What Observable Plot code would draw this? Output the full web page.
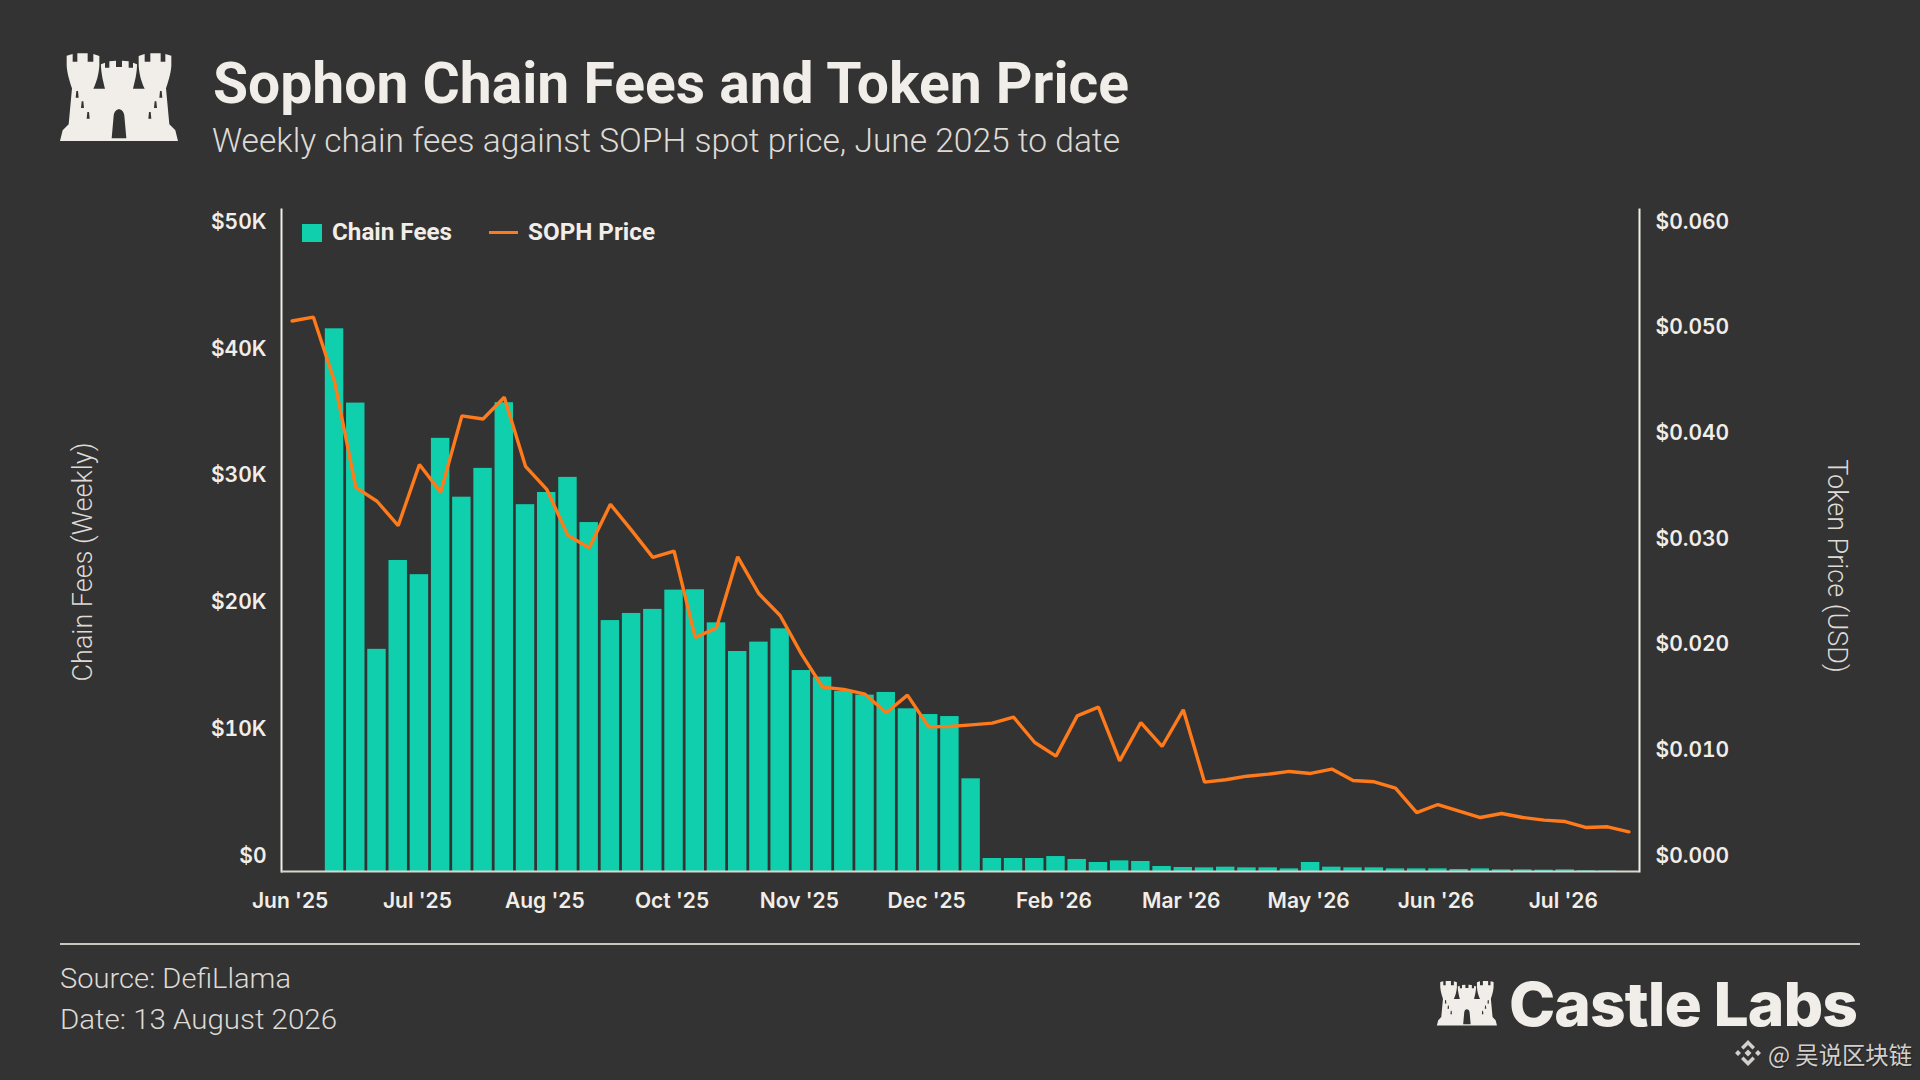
<!DOCTYPE html>
<html>
<head>
<meta charset="utf-8">
<script src="https://cdn.jsdelivr.net/npm/d3@7"></script>
<script src="https://cdn.jsdelivr.net/npm/@observablehq/plot@0.6"></script>
<style>
  html, body { margin: 0; padding: 0; background: #333333; }
  #page { position: relative; width: 1920px; height: 1080px; overflow: hidden; background: #333333; color: #f1ede8; font-family: Roboto, sans-serif; }
  #chart svg { position: absolute; left: 0; top: 0; }
  .t { position: absolute; white-space: nowrap; transform-origin: left center; line-height: 1; }
  #title { left: 213px; top: 55px; font: 700 57px/1 Roboto, sans-serif; }
  #subtitle { left: 212px; top: 124px; font: 300 33px/1 Roboto, sans-serif; color: #dedad5; }
  .leg { font: 700 23px/1 Roboto, sans-serif; top: 221px; }
  #swatch { position: absolute; left: 302px; top: 224px; width: 20px; height: 18px; background: #0fcfac; }
  #legline { position: absolute; left: 489px; top: 231px; width: 29px; height: 3px; background: #ff7a1a; }
  .axt { position: absolute; white-space: nowrap; font: 300 27px/1 Roboto, sans-serif; color: #dedad5; transform-origin: center center; }
  #rule { position: absolute; left: 60px; top: 943px; width: 1800px; height: 2px; background: #c9c5bf; }
  .src { left: 60px; font: 300 28px/1 Roboto, sans-serif; color: #dedad5; }
  #brand { left: 1509px; top: 974px; font: 800 61px/1 Inter, sans-serif; letter-spacing: -1px; }
  #wm { left: 1768px; top: 1042px; font: 400 24px/1 "Noto Sans CJK SC", sans-serif; color: #d3d0cc; text-shadow: 1px 1px 1px #222; }
</style>
</head>
<body>
<div id="page">
  <div id="chart"></div>

  <svg style="position:absolute;left:50px;top:45px" width="140" height="105" viewBox="0 0 420 315"><defs>
    <path id="castle" fill-rule="evenodd" fill="#f1ede8" d="M30 288 L38 256 L56 238 L66 130 C60 110 52 90 50 62 L50 32 L68 27 L68 50 L82 50 L82 25 L113 25 L113 50 L130 50 L130 27 L148 33 L148 62 C146 90 140 110 130 131 L165 131 C160 110 154 90 153 62 L153 58 L165 53 L165 68 L178 68 L178 49 L198 47 L198 66 L216 66 L216 47 L236 49 L236 68 L249 68 L249 53 L261 58 L261 62 C260 90 254 110 249 131 L284 131 C274 110 268 90 266 62 L266 33 L284 27 L284 50 L301 50 L301 25 L332 25 L332 50 L346 50 L346 27 L364 32 L364 62 C362 90 354 110 348 130 L358 238 L376 256 L384 288 Z
    M185 280 L191 212 C194 186 220 186 223 212 L229 280 Z
    M77 158 L79 138 L84 138 L86 158 Z M93 189 L95 169 L100 169 L102 189 Z M110 221 L112 201 L117 201 L119 221 Z
    M328 158 L330 138 L335 138 L337 158 Z M312 189 L314 169 L319 169 L321 189 Z M295 221 L297 201 L302 201 L304 221 Z"/></defs><use href="#castle"/></svg>

  <div class="t" id="title" data-w="916">Sophon Chain Fees and Token Price</div>
  <div class="t" id="subtitle" data-w="908">Weekly chain fees against SOPH spot price, June 2025 to date</div>

  <div id="swatch"></div>
  <div class="t leg" id="leg1" style="left:332px" data-w="120">Chain Fees</div>
  <div id="legline"></div>
  <div class="t leg" id="leg2" style="left:528px" data-w="127">SOPH Price</div>

  <div class="axt" id="axL" style="left:83px;top:562px;transform:translate(-50%,-50%) rotate(-90deg)">Chain Fees (Weekly)</div>
  <div class="axt" id="axR" style="left:1836px;top:566px;transform:translate(-50%,-50%) rotate(90deg)">Token Price (USD)</div>

  <div id="rule"></div>
  <div class="t src" style="top:965px" data-w="231">Source: DefiLlama</div>
  <div class="t src" style="top:1006px" data-w="277">Date: 13 August 2026</div>

  <svg style="position:absolute;left:1436px;top:978px" width="62" height="50" viewBox="25 15 365 280"><use href="#castle"/></svg>
  <div class="t" id="brand" data-w="348">Castle Labs</div>

  <svg style="position:absolute;left:1734px;top:1039px" width="28" height="28" viewBox="0 0 28 28" fill="#d3d0cc">
    <path d="M14 1 L21 8 L18.5 10.5 L14 6 L9.5 10.5 L7 8 Z M14 27 L21 20 L18.5 17.5 L14 22 L9.5 17.5 L7 20 Z M14 10.5 L17.5 14 L14 17.5 L10.5 14 Z M1 14 L4 11 L7 14 L4 17 Z M27 14 L24 11 L21 14 L24 17 Z"/>
  </svg>
  <div class="t" id="wm" data-w="144">@ 吴说区块链</div>
</div>

<script>
const weeks = ["2025-06-01","2025-06-08","2025-06-15","2025-06-22","2025-06-29","2025-07-06","2025-07-13","2025-07-20","2025-07-27","2025-08-03","2025-08-10","2025-08-17","2025-08-24","2025-08-31","2025-09-07","2025-09-14","2025-09-21","2025-09-28","2025-10-05","2025-10-12","2025-10-19","2025-10-26","2025-11-02","2025-11-09","2025-11-16","2025-11-23","2025-11-30","2025-12-07","2025-12-14","2025-12-21","2025-12-28","2026-01-04","2026-01-11","2026-01-18","2026-01-25","2026-02-01","2026-02-08","2026-02-15","2026-02-22","2026-03-01","2026-03-08","2026-03-15","2026-03-22","2026-03-29","2026-04-05","2026-04-12","2026-04-19","2026-04-26","2026-05-03","2026-05-10","2026-05-17","2026-05-24","2026-05-31","2026-06-07","2026-06-14","2026-06-21","2026-06-28","2026-07-05","2026-07-12","2026-07-19","2026-07-26","2026-08-02","2026-08-09","2026-08-16"];

const fees = [0,0,42800,36940,17520,24530,23410,34160,29520,31790,36970,28930,29890,31080,27520,19790,20350,20670,22190,22220,19610,17350,18090,19140,15850,15330,14200,13910,14120,12830,12380,12220,7310,1025,1025,1025,1180,950,710,840,790,395,315,290,340,290,290,210,710,340,290,290,210,210,210,160,210,130,130,105,130,50,30,0];

const price = [0.0521,0.05247,0.04638,0.03635,0.03504,0.03273,0.03852,0.0359,0.04312,0.04282,0.04488,0.03834,0.03617,0.03179,0.03063,0.03475,0.03228,0.02973,0.03033,0.02214,0.02306,0.02978,0.02628,0.02423,0.0206,0.01745,0.01723,0.01678,0.01502,0.01669,0.01369,0.01372,0.01388,0.01404,0.01461,0.01221,0.01092,0.01473,0.01555,0.01047,0.0141,0.01183,0.0153,0.00846,0.00868,0.00902,0.00921,0.00947,0.00928,0.00969,0.00861,0.00849,0.00789,0.00558,0.00634,0.00571,0.00511,0.00549,0.00511,0.00486,0.00473,0.00416,0.00423,0.00375];

const xTickWeeks = ["2025-06-01","2025-07-13","2025-08-24","2025-10-05","2025-11-16","2025-12-28","2026-02-08","2026-03-22","2026-05-03","2026-06-14","2026-07-26"];
const xTickLabels = ["Jun '25","Jul '25","Aug '25","Oct '25","Nov '25","Dec '25","Feb '26","Mar '26","May '26","Jun '26","Jul '26"];
const feeTicks = [0,10000,20000,30000,40000,50000];
const feeTickLabels = ["$0","$10K","$20K","$30K","$40K","$50K"];
const priceTicks = [0,0.01,0.02,0.03,0.04,0.05,0.06];
const priceTickLabels = ["$0.000","$0.010","$0.020","$0.030","$0.040","$0.050","$0.060"];

const feesPerDollar = 50000 / 0.06;           // the right axis is the left axis rescaled
const table = weeks.map((week, i) => ({week, fee: fees[i], price: price[i] * feesPerDollar}));
const tickFont = {fontFamily: "Inter, sans-serif", fontSize: 21, fontWeight: 600, fill: "#f1ede8"};

const chart = Plot.plot({
  width: 1920, height: 1080,
  marginLeft: 281, marginRight: 281, marginTop: 209, marginBottom: 209,
  style: {background: "transparent", color: "#f1ede8"},
  x: {type: "band", domain: weeks, paddingInner: 0.13, paddingOuter: 0.065, align: 0.5, round: false, label: null},
  y: {domain: [0, 52208], label: null},
  marks: [
    Plot.barY(table, {x: "week", y: "fee", fill: "#0fcfac"}),
    Plot.line(table, {x: "week", y: "price", stroke: "#ff7a1a", strokeWidth: 3.4, strokeLinejoin: "miter"}),
    Plot.frame({anchor: "left", stroke: "#f1ede8", strokeWidth: 2}),
    Plot.frame({anchor: "right", stroke: "#f1ede8", strokeWidth: 2}),
    Plot.ruleY([0], {stroke: "#d9d5d0", strokeWidth: 2}),
    Plot.axisX({ticks: xTickWeeks, tickFormat: d => xTickLabels[xTickWeeks.indexOf(d)], tickSize: 0, tickPadding: 22, dx: -2, label: null, ...tickFont}),
    Plot.axisY({anchor: "left", ticks: feeTicks, tickFormat: d => feeTickLabels[feeTicks.indexOf(d)], tickSize: 0, tickPadding: 15, dy: -15.5, label: null, ...tickFont}),
    Plot.axisY({anchor: "right", ticks: priceTicks.map(p => p * feesPerDollar), tickFormat: (d, i) => priceTickLabels[i], tickSize: 0, tickPadding: 16, dy: -15.5, label: null, ...tickFont})
  ]
});
document.getElementById("chart").appendChild(chart);

// Installed faces are wider or narrower than the original: fit real text to the measured width.
document.querySelectorAll("[data-w]").forEach(el => {
  const w = el.getBoundingClientRect().width;
  el.style.transform = `scaleX(${(+el.dataset.w / w).toFixed(4)})`;
});
</script>
</body>
</html>
